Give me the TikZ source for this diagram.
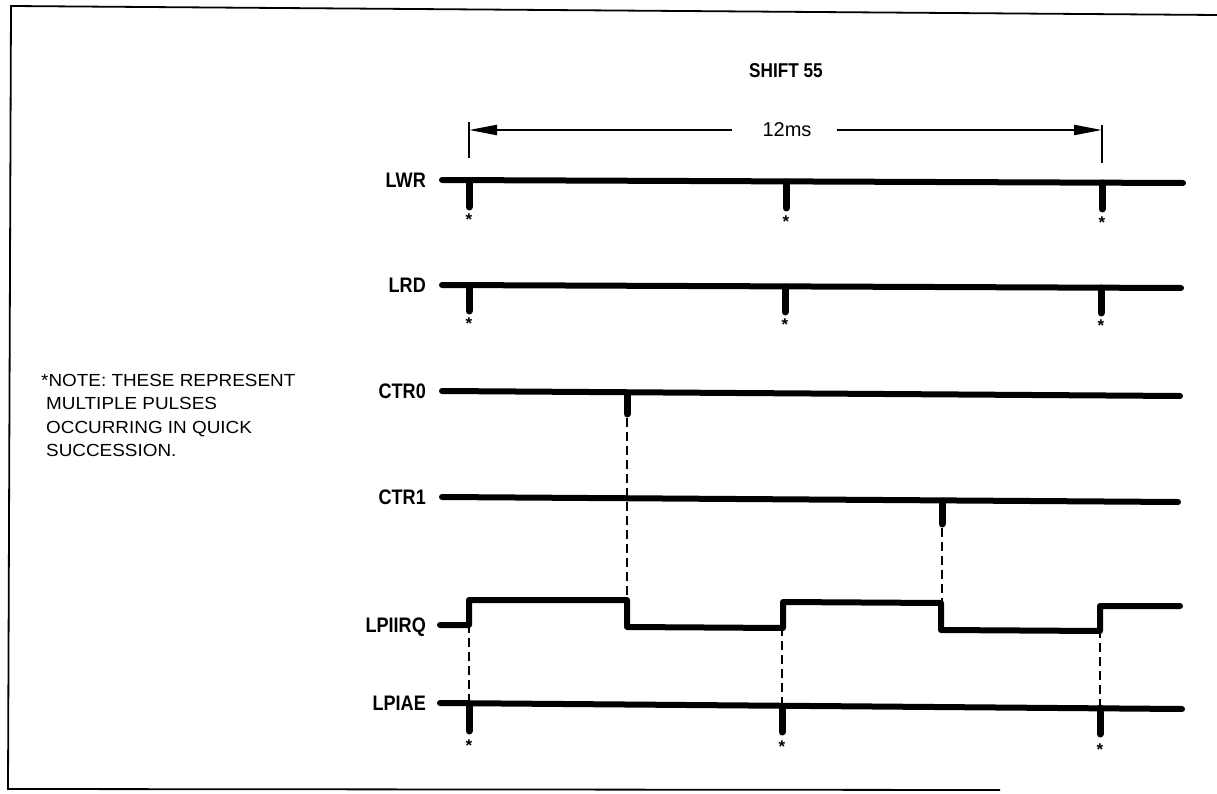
\documentclass[tikz,border=0pt]{standalone}
\usepackage{fontspec}
\setmainfont{Liberation Sans}
\newfontfamily\lblfont[FakeStretch=0.86]{Liberation Sans Bold}
\newfontfamily\notefont[FakeStretch=1.08]{Liberation Sans}
\usetikzlibrary{arrows.meta}
\tikzset{
  sig/.style={line width=6pt, line cap=round, line join=round},
  pulse/.style={line width=7pt, line cap=round},
  dsh/.style={line width=2.4pt, dash pattern=on 9pt off 5pt},
  lbl/.style={anchor=east, inner sep=0pt, font=\lblfont\fontsize{21}{21}\selectfont},
  ast/.style={anchor=base, inner sep=0pt, font=\bfseries\fontsize{17}{17}\selectfont},
  tick/.style={line width=1.8pt},
  dim/.style={line width=2.2pt, -{Triangle[length=28pt,width=10pt]}},
  frame/.style={line width=1.8pt}
}
\begin{document}
\begin{tikzpicture}[x=1pt,y=-1pt]
\useasboundingbox (0,0) rectangle (1217,794);
% frame
\draw[frame] (1217,15) -- (11,6) -- (8,789) -- (1000,790);
% title and dimension
\node[inner sep=0pt, font=\lblfont\fontsize{20}{20}\selectfont] (title) at (786,71) {SHIFT 55};
\node[inner sep=0pt, font=\fontsize{20}{20}\selectfont] (ms) at (787,130) {12ms};
\coordinate (tickL) at (469,130);
\coordinate (tickR) at (1102,130);
\draw[tick] (469,122) -- (469,158);
\draw[tick] (1102,125) -- (1102,163);
\draw[dim] ([xshift=-30pt]ms.west) -- (tickL);
\draw[dim] ([xshift=25pt]ms.east) -- (tickR);
% note
\node[anchor=north west, inner sep=0pt, align=left, font=\notefont\fontsize{17.5}{23.5}\selectfont] (note) at (41,374)
 {*NOTE: THESE REPRESENT\\ \hspace*{5pt}MULTIPLE PULSES\\ \hspace*{5pt}OCCURRING IN QUICK\\ \hspace*{5pt}SUCCESSION.};
% labels
\node[lbl] (lwr) at (426,180) {LWR};
\node[lbl] (lrd) at (426,285) {LRD};
\node[lbl] (ctr0) at (426,391) {CTR0};
\node[lbl] (ctr1) at (426,497) {CTR1};
\node[lbl] (lpiirq) at (426,627) {LPIIRQ};
\node[lbl] (lpiae) at (426,703) {LPIAE};
% LWR
\draw[sig] (442,180) -- (1183,183);
\draw[pulse] (469,181) -- (469,207);
\draw[pulse] (786,182) -- (786,208);
\draw[pulse] (1102,183) -- (1102,209);
\node[ast] (a1) at (469,226) {*};
\node[ast] (a2) at (786,228) {*};
\node[ast] (a3) at (1102,229) {*};
% LRD
\draw[sig] (442,285) -- (1181,288);
\draw[pulse] (469,286) -- (469,311);
\draw[pulse] (785,287) -- (785,312);
\draw[pulse] (1101,288) -- (1101,313);
\node[ast] (b1) at (469,329) {*};
\node[ast] (b2) at (785,330) {*};
\node[ast] (b3) at (1101,331) {*};
% CTR0
\draw[sig] (442,391) -- (1180,396);
\draw[pulse] (627,393) -- (627,414);
\draw[dsh] (627,418) -- (627,600);
% CTR1
\draw[sig] (442,497) -- (1178,502);
\draw[pulse] (942,501) -- (942,524);
\draw[dsh] (942,528) -- (942,629);
% LPIIRQ
\draw[sig] (440,625) -- (469,625) -- (469,600) -- (627,600) -- (627,627) -- (783,628) -- (783,602) -- (941,603) -- (941,630) -- (1100,631) -- (1100,606) -- (1180,606);
% LPIAE
\draw[sig] (440,703) -- (1182,709);
\draw[pulse] (469,704) -- (469,731);
\draw[pulse] (782,706) -- (782,732);
\draw[pulse] (1100,708) -- (1100,734);
\draw[dsh] (469,703) -- (469,626);
\draw[dsh] (782,706) -- (782,629);
\draw[dsh] (1100,708) -- (1100,632);
\node[ast] (c1) at (469,751) {*};
\node[ast] (c2) at (782,752) {*};
\node[ast] (c3) at (1100,755) {*};
\end{tikzpicture}
\end{document}
